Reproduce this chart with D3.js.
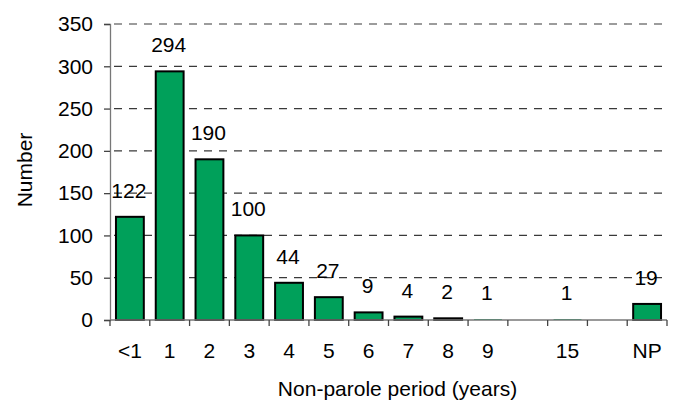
<!DOCTYPE html>
<html>
<head>
<meta charset="utf-8">
<script src="https://cdn.jsdelivr.net/npm/d3@7"></script>
<style>
  html, body { margin: 0; padding: 0; background: #fff; }
  svg { display: block; font-family: "Liberation Sans", Arial, sans-serif; }
</style>
</head>
<body>
<svg id="chart" width="674" height="403"></svg>
<script>
// Data
const categories = ["<1", "1", "2", "3", "4", "5", "6", "7", "8", "9", "10-14", "15", "16+", "NP"];
const tickLabels = ["<1", "1", "2", "3", "4", "5", "6", "7", "8", "9", "", "15", "", "NP"];
const values = [122, 294, 190, 100, 44, 27, 9, 4, 2, 1, null, 1, null, 19];
const yTicks = [0, 50, 100, 150, 200, 250, 300, 350];
const xTitle = "Non-parole period (years)";
const yTitle = "Number";

(function () {
const svg = d3.select("#chart");
const mLeft = 110, mRight = 667, mTop = 24, mBottom = 320;
const fontSize = 21;

const x = d3.scaleBand().domain(categories).range([mLeft, mRight])
  .paddingInner(0.3).paddingOuter(0.15);
const y = d3.scaleLinear().domain([0, 350]).range([mBottom, mTop]);

// Gridlines
svg.append("g").selectAll("line").data(yTicks.filter(d => d > 0)).join("line")
  .attr("x1", mLeft + 4).attr("x2", mRight)
  .attr("y1", d => y(d)).attr("y2", d => y(d))
  .attr("stroke", "#3a3a3a").attr("stroke-width", 1.2)
  .attr("stroke-dasharray", "8,7");

const rows = categories.map((c, i) => ({c, v: values[i]})).filter(d => d.v !== null);

// Bars
svg.append("g").selectAll("rect").data(rows).join("rect")
  .attr("x", d => x(d.c)).attr("width", x.bandwidth())
  .attr("y", d => y(d.v)).attr("height", d => y(0) - y(d.v))
  .attr("fill", "#00A05A").attr("stroke", "#000")
  .attr("stroke-width", d => (y(0) - y(d.v)) < 1 ? 0 : 2);

// Y axis
const yAxis = d3.axisLeft(y).tickValues(yTicks).tickSize(6).tickPadding(11);
const gy = svg.append("g").attr("transform", `translate(${mLeft},0)`).call(yAxis);
gy.select(".domain").attr("stroke", "#777").attr("stroke-width", 1.3);
gy.selectAll(".tick line").attr("stroke", "#444").attr("stroke-width", 1.3);
gy.selectAll(".tick text").attr("font-size", fontSize).attr("fill", "#000")
  .attr("font-family", "Liberation Sans, Arial, sans-serif");

// X axis: line + ticks at band boundaries
const step = x.step();
const boundaries = d3.range(categories.length + 1).map(i => mLeft + i * step);
svg.append("line").attr("x1", mLeft).attr("x2", mRight).attr("y1", mBottom).attr("y2", mBottom)
  .attr("stroke", "#777").attr("stroke-width", 1.3);
svg.append("g").selectAll("line").data(boundaries).join("line")
  .attr("x1", d => d).attr("x2", d => d).attr("y1", mBottom).attr("y2", mBottom + 6)
  .attr("stroke", "#444").attr("stroke-width", 1.3);

// X tick labels
svg.append("g").selectAll("text").data(categories).join("text")
  .attr("x", d => x(d) + x.bandwidth() / 2).attr("y", 358)
  .attr("text-anchor", "middle").attr("font-size", fontSize).attr("fill", "#000")
  .text((d, i) => tickLabels[i]);

// Value labels
svg.append("g").selectAll("text").data(rows).join("text")
  .attr("x", d => x(d.c) + x.bandwidth() / 2 - 1).attr("y", d => y(d.v) - 19)
  .attr("text-anchor", "middle").attr("font-size", fontSize).attr("fill", "#000")
  .text(d => d.v);

// Axis titles
svg.append("text").attr("x", (mLeft + mRight) / 2 + 9).attr("y", 396)
  .attr("text-anchor", "middle").attr("font-size", fontSize).attr("fill", "#000")
  .text(xTitle);
svg.append("text").attr("transform", `translate(32,170) rotate(-90)`)
  .attr("text-anchor", "middle").attr("font-size", fontSize).attr("fill", "#000")
  .text(yTitle);
})();
</script>
</body>
</html>
